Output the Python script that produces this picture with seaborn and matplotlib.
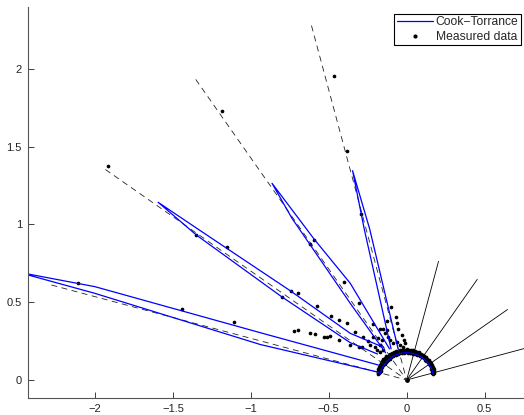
import numpy as np
import pandas as pd
import seaborn as sns
import matplotlib
matplotlib.use("Agg")
import matplotlib.pyplot as plt
from matplotlib.lines import Line2D

# incident angles (deg) and the mirror directions drawn as dashed lines
incident_deg = [15, 35, 55, 75]
incident_len = 0.79
mirror_len = 2.36

# Cook-Torrance diffuse ring (polar, deg from normal)
ring_deg = [-78, -72, -66, -60, -54, -48, -42, -36, -30, -24, -18, -12, -6, 0,
            6, 12, 18, 24, 30, 36, 42, 48, 54, 60, 66, 72, 78]
ring_kd = 0.175

# Cook-Torrance specular spikes (base -> tip -> base)
lobe15_x = [-0.100, -0.272, -0.347, -0.237, -0.055]
lobe15_y = [0.200, 0.970, 1.346, 0.970, 0.200]
lobe35_x = [-0.135, -0.362, -0.736, -0.864, -0.593, -0.362, -0.110]
lobe35_y = [0.175, 0.493, 1.040, 1.265, 0.905, 0.622, 0.200]
lobe55_x = [-0.187, -0.362, -0.803, -1.349, -1.595, -1.349, -0.747, -0.362, -0.148]
lobe55_y = [0.167, 0.240, 0.536, 0.932, 1.143, 0.977, 0.574, 0.300, 0.210]
lobe75_x = [-0.181, -0.939, -2.000, -2.500, -2.000, -0.939, -0.181]
lobe75_y = [0.050, 0.228, 0.557, 0.695, 0.600, 0.304, 0.096]

# measured data: dots along the ring (polar)
ring_dot_deg_a = [-78, -74, -70, -66, -62, -58, -54, -50, -46, -42, -38, -34, -30,
                  -26, -22, -18, -14, -10, -6, -2, 2, 6, 10, 14, 18, 22, 26, 30,
                  34, 38, 42, 46, 50, 54, 58, 62, 66, 70, 74, 78]
ring_dot_r_a = [0.185, 0.180, 0.178, 0.177, 0.176, 0.176, 0.175, 0.176, 0.177, 0.176,
                0.175, 0.176, 0.177, 0.178, 0.176, 0.175, 0.176, 0.175, 0.176, 0.177,
                0.176, 0.175, 0.176, 0.175, 0.176, 0.175, 0.176, 0.175, 0.176, 0.177,
                0.176, 0.175, 0.176, 0.175, 0.176, 0.175, 0.174, 0.173, 0.172, 0.170]
ring_dot_deg_b = [-76, -72, -68, -64, -60, -56, -52, -48, -44, -40, -36, -32, -28,
                  -24, -20, -16, -12, -8, -4, 0, 4, 8, 12, 16, 20, 24, 28, 32,
                  36, 40, 44, 48, 52, 56, 60, 64, 68, 72, 76]
ring_dot_r_b = [0.190, 0.192, 0.195, 0.196, 0.198, 0.200, 0.199, 0.201, 0.200, 0.202,
                0.198, 0.200, 0.199, 0.197, 0.198, 0.196, 0.197, 0.195, 0.196, 0.197,
                0.195, 0.196, 0.194, 0.195, 0.193, 0.194, 0.192, 0.193, 0.191, 0.192,
                0.190, 0.191, 0.189, 0.190, 0.188, 0.187, 0.186, 0.184, 0.180]
ring_dot_r_c = [0.182, 0.185, 0.186, 0.187, 0.188, 0.189, 0.188, 0.189, 0.190, 0.191,
                0.188, 0.189, 0.190, 0.188, 0.187, 0.186, 0.187, 0.186, 0.185, 0.186,
                0.185, 0.186, 0.185, 0.184, 0.185, 0.184, 0.183, 0.184, 0.183, 0.184,
                0.183, 0.182, 0.182, 0.181, 0.181, 0.180, 0.179, 0.178, 0.176]

# measured data: scattered dots (x, y)
dots_x = [-0.469, -0.383, -0.294, -1.185, -0.593, -0.621, -0.405, -1.918, -1.349,
          -1.151, -0.742, -0.697, -0.802, -0.576, -2.108, -1.439, -1.108,
          -0.303, -0.099, -0.127, -0.067, -0.063, -0.484, -0.437, -0.383, -0.726,
          -0.697, -0.623, -0.591, -0.533, -0.508, -0.490, -0.435, -0.330, -0.281,
          -0.251, -0.362, -0.309, -0.287, -0.217, -0.174, -0.153, -0.127, -0.138,
          -0.213, -0.181, -0.159, -0.234, -0.202, -0.174, -0.117, -0.106, -0.085,
          -0.063, -0.042, -0.021, -0.010, -0.191, -0.170, -0.149, -0.053, -0.030,
          -0.020]
dots_y = [1.955, 1.473, 1.066, 1.732, 0.898, 0.875, 0.632, 1.376, 0.932,
          0.853, 0.572, 0.557, 0.536, 0.478, 0.626, 0.459, 0.373,
          0.495, 0.467, 0.379, 0.407, 0.364, 0.414, 0.386, 0.364, 0.317,
          0.322, 0.300, 0.296, 0.278, 0.278, 0.283, 0.257, 0.311, 0.279,
          0.253, 0.225, 0.214, 0.210, 0.360, 0.326, 0.326, 0.322, 0.300,
          0.279, 0.272, 0.257, 0.225, 0.214, 0.225, 0.278, 0.257, 0.236,
          0.246, 0.225, 0.214, 0.236, 0.193, 0.182, 0.193, 0.326, 0.290,
          0.260]


def polar_xy(deg, r):
    t = np.radians(np.asarray(deg, dtype=float))
    return np.asarray(r) * np.sin(t), np.asarray(r) * np.cos(t)


sns.set_style("ticks")
plt.rcParams["font.family"] = ["Liberation Sans", "DejaVu Sans"]
plt.rcParams["lines.scale_dashes"] = False

fig = plt.figure(figsize=(5.24, 4.15), dpi=100)
ax = fig.add_axes([0.0525, 0.0398, 0.9475, 0.9434])

# incident directions and mirror directions
rows = []
for i, a in enumerate(incident_deg):
    x, y = polar_xy([0, a], [0, incident_len])
    rows += [("inc%d" % i, x[0], y[0]), ("inc%d" % i, x[1], y[1])]
inc_df = pd.DataFrame(rows, columns=["unit", "x", "y"])
sns.lineplot(data=inc_df, x="x", y="y", units="unit", estimator=None, sort=False,
             color="black", linewidth=0.6, ax=ax)

rows = []
for i, a in enumerate(incident_deg):
    x, y = polar_xy([-a, -a], [mirror_len, 0])
    rows += [("mir%d" % i, x[0], y[0]), ("mir%d" % i, x[1], y[1])]
mir_df = pd.DataFrame(rows, columns=["unit", "x", "y"])
sns.lineplot(data=mir_df, x="x", y="y", units="unit", estimator=None, sort=False,
             color="#222222", linewidth=0.6, dashes=False, ax=ax)
for ln in ax.lines[len(incident_deg):]:
    ln.set_dashes((4.3, 3.2))

# Cook-Torrance curves
rx, ry = polar_xy(ring_deg, [ring_kd] * len(ring_deg))
rows = [("ring", a, b) for a, b in zip(rx, ry)]
for name, xs, ys in [("l15", lobe15_x, lobe15_y), ("l35", lobe35_x, lobe35_y),
                     ("l55", lobe55_x, lobe55_y), ("l75", lobe75_x, lobe75_y)]:
    rows += [(name, a, b) for a, b in zip(xs, ys)]
ct_df = pd.DataFrame(rows, columns=["unit", "x", "y"])
sns.lineplot(data=ct_df, x="x", y="y", units="unit", estimator=None, sort=False,
             color="blue", linewidth=0.9, ax=ax)

# measured data
ax_, ay_ = polar_xy(ring_dot_deg_a, ring_dot_r_a)
bx_, by_ = polar_xy(ring_dot_deg_b, ring_dot_r_b)
cx_, cy_ = polar_xy(ring_dot_deg_b, ring_dot_r_c)
meas = pd.DataFrame({"x": np.concatenate([ax_, bx_, cx_, dots_x]),
                     "y": np.concatenate([ay_, by_, cy_, dots_y])})
sns.scatterplot(data=meas, x="x", y="y", color="black", s=7, linewidth=0, ax=ax)
sns.scatterplot(x=[0], y=[0], color="black", s=12, linewidth=0, ax=ax)

ax.set_xlim(-2.433, 0.753)
ax.set_ylim(-0.119, 2.399)
ax.set_xticks([-2, -1.5, -1, -0.5, 0, 0.5])
ax.set_yticks([0, 0.5, 1, 1.5, 2])
ax.set_xticklabels(["\u22122", "\u22121.5", "\u22121", "\u22120.5", "0", "0.5"])
ax.set_yticklabels(["0", "0.5", "1", "1.5", "2"])
ax.set_xlabel("")
ax.set_ylabel("")
ax.tick_params(direction="in", length=4, width=0.6, labelsize=8, colors="#222222",
               pad=4)
for s in ["top", "right"]:
    ax.spines[s].set_visible(False)
for s in ["left", "bottom"]:
    ax.spines[s].set_linewidth(0.8)
    ax.spines[s].set_color("#555555")

handles = [Line2D([], [], color="blue", linewidth=0.9),
           Line2D([], [], color="black", linestyle="none", marker=".", markersize=4)]
leg = ax.legend(handles, ["Cook\u2212Torrance", "Measured data"], loc="upper right",
                bbox_to_anchor=(0.994, 0.982), borderaxespad=0, fontsize=8.7,
                fancybox=False, framealpha=1, edgecolor="black", handlelength=3.0,
                handletextpad=0.25, labelspacing=0.2, borderpad=0.2)
leg.get_frame().set_linewidth(0.8)

fig.savefig("out.png", dpi=100)
